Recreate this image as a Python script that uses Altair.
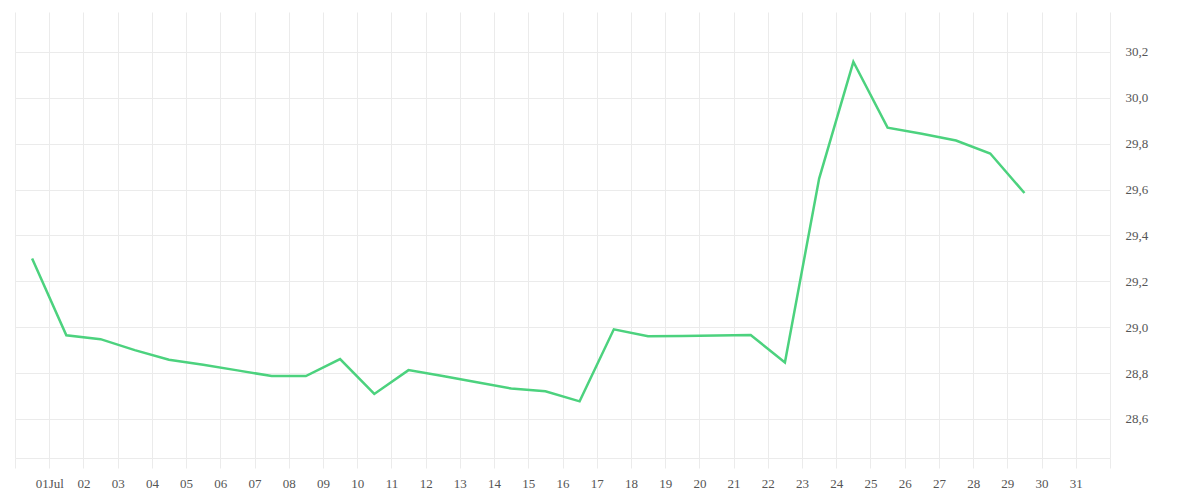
import altair as alt
import pandas as pd

dates = ["2024-06-30T12:00"] + [f"2024-07-{d:02d}T12:00" for d in range(1, 30)]
values = [29.30, 28.965, 28.948, 28.90, 28.858, 28.836, 28.812, 28.787, 28.787, 28.861,
          28.709, 28.813, 28.787, 28.760, 28.733, 28.721, 28.677, 28.991, 28.961, 28.962,
          28.964, 28.966, 28.846, 29.648, 30.157, 29.870, 29.843, 29.814, 29.757, 29.585]
y_ticks = [28.6, 28.8, 29.0, 29.2, 29.4, 29.6, 29.8, 30.0, 30.2]

df = pd.DataFrame({"date": dates, "value": values})

x_tick_values = [alt.DateTime(year=2024, month=6, date=30)] + \
    [alt.DateTime(year=2024, month=7, date=d) for d in range(1, 32)] + \
    [alt.DateTime(year=2024, month=8, date=1)]

grid_color = "#ebebeb"
font = "Liberation Serif"
label_color = "#555555"

chart = alt.Chart(df).mark_line(color="#4cd27e", strokeWidth=2.5).encode(
    x=alt.X("date:T",
            scale=alt.Scale(domain=[alt.DateTime(year=2024, month=6, date=30),
                                    alt.DateTime(year=2024, month=8, date=1)]),
            axis=alt.Axis(values=x_tick_values, title=None, grid=True, gridColor=grid_color,
                          domain=True, domainColor=grid_color, ticks=True, tickColor=grid_color,
                          tickSize=10, labelPadding=9, labelFont=font, labelFontSize=13,
                          labelColor=label_color, labelOverlap=False,
                          labelExpr="month(datum.value)!=6 ? '' : (date(datum.value)==1 ? timeFormat(datum.value,'%d%b') : timeFormat(datum.value,'%d'))")),
    y=alt.Y("value:Q",
            scale=alt.Scale(domain=[28.43, 30.374], nice=False, zero=False),
            axis=alt.Axis(orient="right", values=y_ticks, title=None, grid=True, gridColor=grid_color,
                          domain=False, ticks=False, labelPadding=15, labelFont=font,
                          labelFontSize=13, labelColor=label_color,
                          labelExpr="replace(format(datum.value, '.1f'), '.', ',')")),
).properties(
    width=1095, height=446,
    autosize=alt.AutoSizeParams(type="none"),
    padding={"left": 7, "top": 4, "right": 70, "bottom": 40},
).configure_view(stroke=None)

chart.save("out.html", embed_options={"renderer": "svg", "actions": False})
